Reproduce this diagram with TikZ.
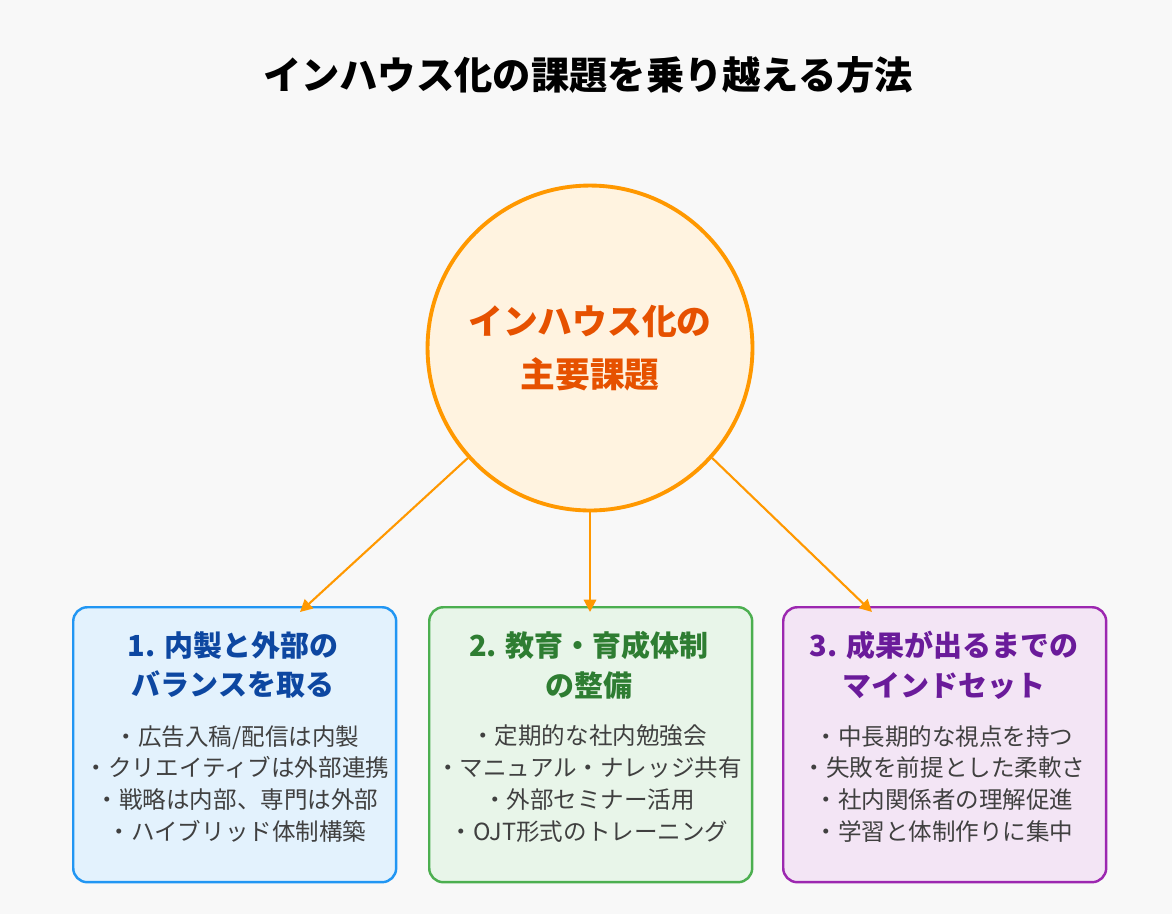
\documentclass[tikz,border=0pt]{standalone}
\usepackage{fontspec}
\setmainfont{Noto Sans CJK JP}
\usepackage{tikz}
\usetikzlibrary{arrows.meta, positioning, calc}
\definecolor{bgcolor}{HTML}{F8F8F8}
\definecolor{orangeline}{HTML}{FF9800}
\definecolor{orangefill}{HTML}{FFF3E0}
\definecolor{orangetext}{HTML}{E65100}
\definecolor{blueline}{HTML}{2196F3}
\definecolor{bluefill}{HTML}{E3F2FD}
\definecolor{bluetext}{HTML}{0D47A1}
\definecolor{greenline}{HTML}{4CAF50}
\definecolor{greenfill}{HTML}{E8F5E9}
\definecolor{greentext}{HTML}{2E7D32}
\definecolor{purpleline}{HTML}{9C27B0}
\definecolor{purplefill}{HTML}{F3E5F5}
\definecolor{purpletext}{HTML}{6A1B9A}

\begin{document}
\begin{tikzpicture}[
    x=0.02cm, y=-0.02cm,
    topicbox/.style={draw, line width=1.4pt, rounded corners=8pt, minimum width=6.46cm, minimum height=5.5cm, anchor=north west},
    boxtitle/.style={font=\fontsize{16.5}{22.7}\selectfont\bfseries, align=center},
    boxitems/.style={font=\fontsize{13.4}{18.2}\selectfont, text=black!75, align=center},
    arrow/.style={-{Triangle[length=7pt, width=7pt]}, line width=1.2pt, orangeline}
]
    % Background
    \fill[bgcolor] (0,0) rectangle (1172,914);
    \useasboundingbox (0,0) rectangle (1172,914);

    % Title
    \node[font=\fontsize{21.8}{25}\selectfont\bfseries] (title) at (588,75) {インハウス化の課題を乗り越える方法};

    % Center
    \node[circle, draw=orangeline, fill=orangefill, line width=2.2pt, minimum size=6.5cm,
          text=orangetext, font=\fontsize{19.8}{30}\selectfont\bfseries, align=center] (core) at (590,348)
          {インハウス化の\\主要課題};

    % Boxes
    \node[topicbox, draw=blueline, fill=bluefill] (left) at (72,606) {};
    \node[topicbox, draw=greenline, fill=greenfill] (mid) at (428,606) {};
    \node[topicbox, draw=purpleline, fill=purplefill] (right) at (782,606) {};

    \node[boxtitle, text=bluetext] (lefttitle) at (233,665) {1. 内製と外部の\\バランスを取る};
    \node[boxtitle, text=greentext] (midtitle) at (589,665) {2. 教育・育成体制\\の整備};
    \node[boxtitle, text=purpletext] (righttitle) at (944,665) {3. 成果が出るまでの\\マインドセット};

    \node[boxitems] (leftitems) at (237,784) {・広告入稿/配信は内製\\・クリエイティブは外部連携\\・戦略は内部、専門は外部\\・ハイブリッド体制構築};
    \node[boxitems] (miditems) at (589,784) {・定期的な社内勉強会\\・マニュアル・ナレッジ共有\\・外部セミナー活用\\・OJT形式のトレーニング};
    \node[boxitems] (rightitems) at (944,784) {・中長期的な視点を持つ\\・失敗を前提とした柔軟さ\\・社内関係者の理解促進\\・学習と体制作りに集中};

    % Arrows
    \coordinate (leftend) at (300,612);
    \coordinate (midend) at (590,612);
    \coordinate (rightend) at (872,612);
    \draw[arrow] (core.-138) -- (leftend);
    \draw[arrow] (core.south) -- (midend);
    \draw[arrow] (core.-42) -- (rightend);
\end{tikzpicture}
\end{document}
